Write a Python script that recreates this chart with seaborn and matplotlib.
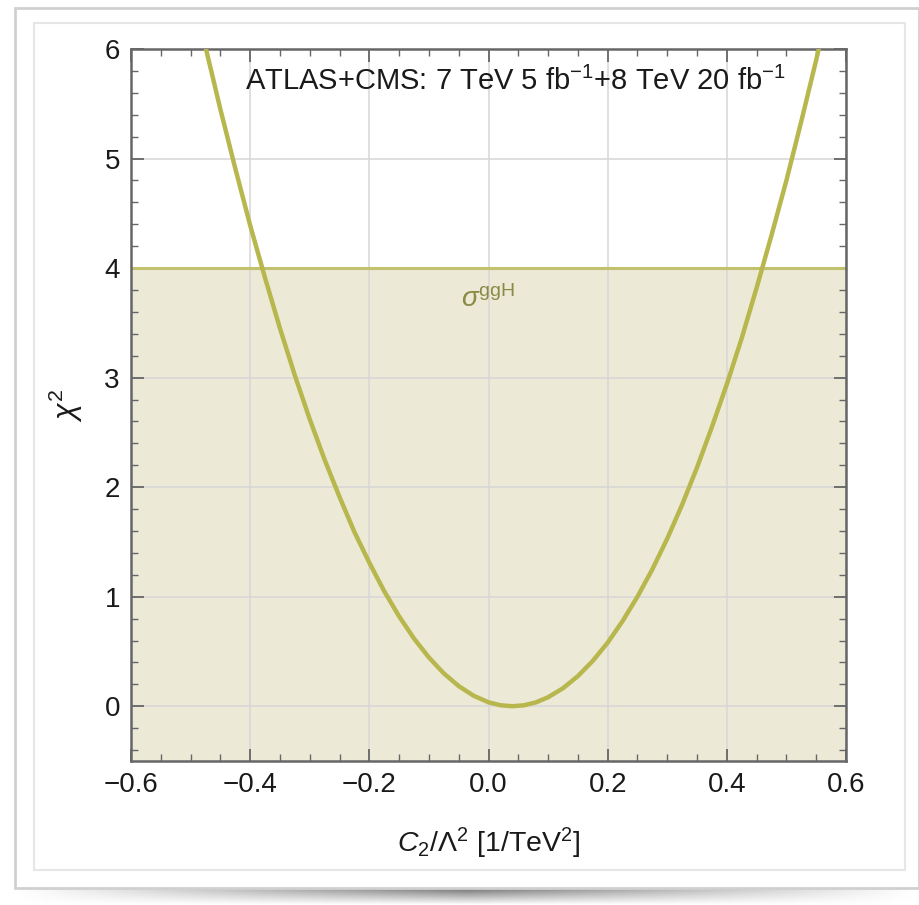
import numpy as np
import pandas as pd
import matplotlib
matplotlib.use("Agg")
import matplotlib.pyplot as plt
from matplotlib.patches import Rectangle
from matplotlib.ticker import MultipleLocator
import seaborn as sns

# ---- data ----
c2 = [-0.49, -0.475, -0.45, -0.425, -0.40, -0.375, -0.35, -0.325, -0.30, -0.275,
      -0.25, -0.225, -0.20, -0.175, -0.15, -0.125, -0.10, -0.075, -0.05, -0.025,
      0.00, 0.02, 0.04, 0.06, 0.08, 0.10, 0.125, 0.15, 0.175, 0.20,
      0.225, 0.25, 0.275, 0.30, 0.325, 0.35, 0.375, 0.40, 0.425, 0.45,
      0.475, 0.50, 0.525, 0.55, 0.57]
chi2 = [6.38, 6.02, 5.45, 4.91, 4.39, 3.91, 3.45, 3.02, 2.62, 2.25,
        1.91, 1.59, 1.31, 1.05, 0.82, 0.618, 0.445, 0.30, 0.184, 0.096,
        0.036, 0.009, 0.0, 0.009, 0.036, 0.082, 0.164, 0.275, 0.414, 0.58,
        0.777, 1.00, 1.25, 1.53, 1.84, 2.18, 2.55, 2.94, 3.36, 3.82,
        4.30, 4.80, 5.34, 5.90, 6.38]
chi2_limit = 4.0
x_ticks = [-0.6, -0.4, -0.2, 0.0, 0.2, 0.4, 0.6]
y_ticks = [0, 1, 2, 3, 4, 5, 6]
x_range = (-0.6, 0.6)
y_range = (-0.5, 6.0)
title_text = r"ATLAS+CMS: 7 TeV 5 fb$^{-1}$+8 TeV 20 fb$^{-1}$"
curve_label = r"$\sigma^{\rm ggH}$"

df = pd.DataFrame({"c2": c2, "chi2": chi2})

sns.set_theme(style="white")
plt.rcParams["font.family"] = ["Liberation Sans", "DejaVu Sans"]
plt.rcParams["mathtext.fontset"] = "custom"
plt.rcParams["mathtext.rm"] = "Liberation Sans"
plt.rcParams["mathtext.it"] = "Liberation Sans:italic"
plt.rcParams["mathtext.bf"] = "Liberation Sans:bold"

W, H = 919, 905
fig = plt.figure(figsize=(W / 100, H / 100), dpi=100)
fig.patch.set_facecolor("white")

# screenshot-like decoration (outer frame, inner panel, bottom shadow)
deco = fig.add_axes([0, 0, 1, 1], zorder=-10)
deco.set_xlim(0, W)
deco.set_ylim(H, 0)
deco.axis("off")
grad = np.linspace(0, 1, 200)
band = 0.45 + 0.55 * np.abs(grad - 0.5) * 2
shadow = np.tile(band, (20, 1))
vert = np.linspace(1.0, 0.0, 20)[:, None]
shadow = 1 - (1 - shadow) * vert
deco.imshow(shadow, cmap="gray", vmin=0, vmax=1, extent=(15, W, H, 888), aspect="auto")
deco.add_patch(Rectangle((15, 8), W - 15, 880, fill=False, edgecolor="#d0d0d0", lw=2))
deco.add_patch(Rectangle((34, 23), 871, 847, fill=False, edgecolor="#e6e6e6", lw=1.5))

ax = fig.add_axes([131 / W, 1 - 761 / H, (846 - 131) / W, (761 - 49) / H])
ax.set_facecolor("white")

line_col = "#b7b74e"
fill_col = "#ecead6"

ax.axhspan(y_range[0], chi2_limit, color=fill_col, zorder=0, lw=0)
ax.axhline(chi2_limit, color="#c2c16e", lw=2.2, zorder=2)
sns.lineplot(data=df, x="c2", y="chi2", ax=ax, color=line_col, lw=3.2, zorder=3, sort=False)

ax.set_xlim(*x_range)
ax.set_ylim(*y_range)
ax.set_xticks(x_ticks)
ax.set_yticks(y_ticks)
ax.set_xticklabels([f"{v:.1f}".replace("-", "\u2212") for v in x_ticks])
ax.set_yticklabels([str(v) for v in y_ticks])
ax.xaxis.set_minor_locator(MultipleLocator(0.05))
ax.yaxis.set_minor_locator(MultipleLocator(0.2))
ax.grid(True, which="major", color="#d6d6d6", lw=1.1, zorder=1)
ax.set_axisbelow(True)

ax.tick_params(which="both", direction="in", top=True, right=True, bottom=True, left=True,
               color="#666666", labelsize=20, labelcolor="#1a1a1a", pad=8)
ax.tick_params(which="major", length=9, width=1.3)
ax.tick_params(which="minor", length=5, width=1.0)
for s in ax.spines.values():
    s.set_color("#666666")
    s.set_linewidth(1.8)

ax.set_xlabel(r"$C_2/\Lambda^2$ [1/TeV$^2$]", fontsize=20.5, color="#1a1a1a", labelpad=20)
ax.set_ylabel(r"$\chi^2$", fontsize=22, color="#1a1a1a", labelpad=14)

ax.text(0.537, 0.955, title_text, transform=ax.transAxes, ha="center", va="center",
        fontsize=21, color="#1a1a1a")
ax.text(0.0, 3.72, curve_label, ha="center", va="center", fontsize=20, color="#8a8a45")

fig.savefig("out.png", dpi=100, facecolor="white")
